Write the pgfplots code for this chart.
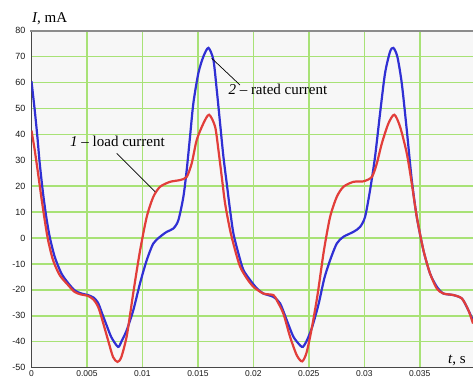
\documentclass[border=0pt]{standalone}
\usepackage{fontspec}
\setmainfont{Liberation Serif}
\newfontfamily\tickfont{Liberation Sans}
\usepackage{pgfplots}
\pgfplotsset{compat=1.18}
\definecolor{gridgreen}{RGB}{168,226,118}
\definecolor{curveblue}{RGB}{48,48,212}
\definecolor{curvered}{RGB}{226,62,58}
\definecolor{plotbg}{RGB}{247,247,247}

\begin{document}
\begin{tikzpicture}[x=1pt,y=1pt]
\begin{axis}[
  at={(0,0)}, anchor=south west,
  scale only axis, width=441.5pt, height=336.8pt,
  xmin=0, xmax=0.0398, ymin=-50, ymax=80,
  axis x line*=bottom, axis y line*=left,
  axis line style={-, draw=black!72, line width=1.5pt},
  xtick={0,0.005,0.01,0.015,0.02,0.025,0.03,0.035},
  xticklabels={0,0.005,0.01,0.015,0.02,0.025,0.03,0.035},
  ytick={-50,-40,-30,-20,-10,0,10,20,30,40,50,60,70,80},
  grid=major,
  major grid style={draw=gridgreen, line width=1.5pt},
  major tick length=0pt,
  axis background/.style={fill=plotbg},
  /pgf/number format/assume math mode=true,
  yticklabel style={font=\tickfont\fontsize{9}{10}\selectfont, text=black!90, xshift=-2.5pt},
  xticklabel style={font=\tickfont\fontsize{8.5}{10}\selectfont, text=black!90, yshift=1pt},
  scaled x ticks=false,
  clip=true,
]
\addplot[curveblue, line width=2.2pt, smooth, tension=0.45] coordinates {
(0,60.5) (0.00029,49.4) (0.00053,39.1) (0.00074,28.9) (0.00104,17.3) (0.00133,8.2) (0.00164,0.5) (0.00209,-7.2) (0.00269,-13.6) (0.00329,-17.3) (0.00389,-20.2) (0.00449,-21.4) (0.00509,-22.0) (0.00560,-23.0) (0.00600,-25.0) (0.00640,-29.5) (0.00680,-34.0) (0.00720,-38.3) (0.00780,-42.0) (0.00810,-40.0) (0.00858,-35.6) (0.00918,-27.8) (0.00978,-17.5) (0.01039,-8.5) (0.01098,-2.1) (0.01159,0.5) (0.01219,2.4) (0.01279,3.7) (0.01324,6.9) (0.01369,15.9) (0.01399,26.2) (0.01429,39.1) (0.01459,52.0) (0.01504,63.6) (0.01549,70.0) (0.01595,73.4) (0.01640,68.7) (0.01670,57.2) (0.01700,44.3) (0.01730,31.4) (0.01760,21.1) (0.01790,10.8) (0.01820,1.8) (0.01865,-5.9) (0.01910,-12.3) (0.01971,-16.2) (0.02031,-19.4) (0.02090,-21.4) (0.02180,-22.7) (0.02241,-25.2) (0.02301,-31.7) (0.02361,-38.1) (0.02421,-41.4) (0.02446,-42.0) (0.02477,-40.0) (0.02525,-35.0) (0.02585,-26.0) (0.02640,-15.5) (0.02692,-8.5) (0.02752,-2.1) (0.02812,0.5) (0.02902,2.4) (0.02962,4.3) (0.03007,8.2) (0.03052,18.5) (0.03097,31.4) (0.03142,48.1) (0.03187,63.6) (0.03232,71.9) (0.03262,73.4) (0.03298,70.0) (0.03338,59.7) (0.03383,41.7) (0.03428,22.4) (0.03473,8.2) (0.03533,-4.7) (0.03593,-13.7) (0.03654,-18.8) (0.03713,-21.4) (0.03803,-22.0) (0.03879,-23.3) (0.03924,-26.6) (0.0398,-31.7)
};
\addplot[curvered, line width=2.2pt, smooth, tension=0.45] coordinates {
(0,41.5) (0.00029,34.0) (0.00059,25.0) (0.00088,16.0) (0.00119,7.0) (0.00149,-0.7) (0.00194,-8.5) (0.00254,-14.3) (0.00329,-18.1) (0.00389,-20.8) (0.00449,-21.8) (0.00509,-22.3) (0.00560,-23.8) (0.00600,-26.5) (0.00630,-30.4) (0.00690,-39.4) (0.00735,-45.9) (0.00775,-47.8) (0.00810,-45.9) (0.00860,-37.5) (0.00918,-21.0) (0.00978,-5.0) (0.01039,8.2) (0.01098,15.9) (0.01159,19.8) (0.01249,21.7) (0.01339,22.4) (0.01399,23.6) (0.01444,28.8) (0.01489,37.8) (0.01549,44.2) (0.01601,47.6) (0.01655,43.0) (0.01685,34.0) (0.01715,23.7) (0.01745,13.4) (0.01790,3.1) (0.01835,-4.6) (0.01880,-11.0) (0.01940,-15.5) (0.02001,-18.8) (0.02090,-21.4) (0.02180,-22.0) (0.02211,-24.0) (0.02270,-29.1) (0.02331,-38.1) (0.02391,-45.2) (0.02440,-47.6) (0.02481,-44.0) (0.02530,-34.0) (0.02580,-21.5) (0.02636,-4.8) (0.02692,8.2) (0.02752,15.9) (0.02812,19.8) (0.02902,21.7) (0.02992,21.9) (0.03068,23.6) (0.03113,28.8) (0.03158,36.5) (0.03217,44.2) (0.03271,47.6) (0.03323,42.9) (0.03383,32.7) (0.03428,21.1) (0.03473,8.2) (0.03533,-4.7) (0.03593,-13.7) (0.03654,-19.5) (0.03713,-21.4) (0.03803,-22.0) (0.03879,-23.3) (0.03938,-27.8) (0.0398,-33.0)
};
\end{axis}
% top frame line
\draw[black!45, line width=1.5pt] (-1,336.8) -- (441.5,336.8);
% annotations
\node[anchor=base west, inner sep=0pt, font=\fontsize{15}{17}\selectfont] at (0.5,344.9) {\textit{I}, mA};
\node[anchor=base west, inner sep=0pt, font=\fontsize{15}{17}\selectfont] at (416.5,4.5) {\textit{t}, s};
\node[anchor=base west, inner sep=0pt, font=\fontsize{15}{17}\selectfont] at (196.8,272.6) {\textit{2} -- rated current};
\node[anchor=base west, inner sep=0pt, font=\fontsize{15}{17}\selectfont] at (38.5,220.9) {\textit{1} -- load current};
\draw[black, line width=0.7pt] (180.2,309.3) -- (208.5,282.6);
\draw[black, line width=0.7pt] (85.2,214.3) -- (123.5,175.9);
\pgfresetboundingbox
\useasboundingbox (-31.5,-10.4) rectangle (441.5,367.6);
\end{tikzpicture}
\end{document}
